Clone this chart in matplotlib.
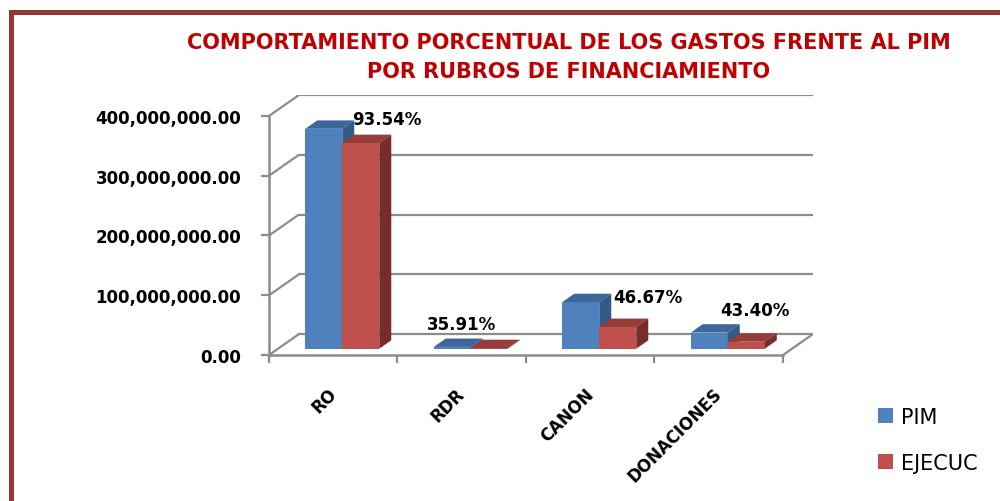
import numpy as np
import matplotlib
matplotlib.use("Agg")
import matplotlib.pyplot as plt
from matplotlib.patches import Polygon, Patch, Rectangle
from matplotlib.transforms import ScaledTranslation

rubros = ["RO", "RDR", "CANON", "DONACIONES"]
pim = [368.0e6, 3.0e6, 78.0e6, 27.0e6]
ejecuc = [344.2e6, 1.08e6, 36.4e6, 11.7e6]
avance = ["93.54%", "35.91%", "46.67%", "43.40%"]
series = ["PIM", "EJECUC"]

# colores: frente, tapa, lado
c_pim = ["#4F81BD", "#3D669A", "#355A86"]
c_eje = ["#C0504D", "#963D3A", "#772D2B"]
grid_c = "#8C8C8C"

# pseudo 3D (en unidades de datos)
dx, dy = 0.2335, 35.1e6      # profundidad de la caja
f0, fd = 0.30, 0.40          # posicion y espesor de las barras en la profundidad
w = 0.288                    # ancho de cada barra
ymax = 400e6

fig = plt.figure(figsize=(10, 5.02), dpi=100)
ax = fig.add_axes([0.269, 0.2908, 0.544, 0.518])
ax.set_xlim(0, len(rubros) + dx)
ax.set_ylim(0, ymax + dy)

# paredes / lineas de division
yt = np.arange(0, ymax + 1, 100e6)
for v in yt:
    ax.plot([0, dx], [v, v + dy], color=grid_c, lw=1.6, zorder=1, solid_capstyle="butt")
    ax.plot([dx, len(rubros) + dx], [v + dy, v + dy], color=grid_c, lw=1.6, zorder=1)
ax.plot([len(rubros), len(rubros) + dx], [0, dy], color=grid_c, lw=1.6, zorder=1)

for sp in ["top", "right"]:
    ax.spines[sp].set_visible(False)
ax.spines["left"].set_bounds(0, ymax)
ax.spines["bottom"].set_bounds(0, len(rubros))
for sp in ["left", "bottom"]:
    ax.spines[sp].set_color(grid_c)
    ax.spines[sp].set_linewidth(1.8)

ax.set_yticks(yt)
ax.set_yticklabels([f"{v:,.2f}" for v in yt], fontsize=12, fontweight="bold")
ax.tick_params(axis="y", length=6, width=1.6, color=grid_c, pad=14)

ax.set_xticks(np.arange(len(rubros)) + 0.5)
ax.set_xticklabels(rubros, rotation=45, ha="right", va="top", rotation_mode="anchor",
                   fontsize=12, fontweight="bold")
ax.set_xticks(np.arange(len(rubros) + 1), minor=True)
ax.tick_params(axis="x", which="major", length=0, pad=21)
ax.tick_params(axis="x", which="minor", length=6, width=1.6, color=grid_c)
for lab in ax.get_xticklabels():
    lab.set_transform(lab.get_transform() + ScaledTranslation(-0.06, 0, fig.dpi_scale_trans))


def bar3d(x0, val, cols):
    b = f0 * dy
    ddx, ddy = fd * dx, fd * dy
    x1 = x0 + w
    top = b + val
    ax.bar(x0, val, width=w, bottom=b, align="edge", color=cols[0], zorder=3, lw=0)
    ax.add_patch(Polygon([(x0, top), (x1, top), (x1 + ddx, top + ddy), (x0 + ddx, top + ddy)],
                         closed=True, facecolor=cols[1], lw=0, zorder=3))
    ax.add_patch(Polygon([(x1, b), (x1 + ddx, b + ddy), (x1 + ddx, top + ddy), (x1, top)],
                         closed=True, facecolor=cols[2], lw=0, zorder=3))
    return x1 + ddx, top + ddy


lab_off = [(-3, 5), (-42, 5), (0, 9), (-16, 10)]
for i in range(len(rubros)):
    x0 = i + 0.5 - w + f0 * dx
    bar3d(x0, pim[i], c_pim)
    xr, yr = bar3d(x0 + w, ejecuc[i], c_eje)
    ax.annotate(avance[i], (xr, yr), xytext=lab_off[i], textcoords="offset points",
                ha="center", va="bottom", fontsize=12, fontweight="bold", zorder=5)

fig.text(0.569, 0.914, "COMPORTAMIENTO PORCENTUAL DE LOS GASTOS FRENTE AL PIM",
         ha="center", va="center", color="#C00000", fontsize=15, fontweight="bold")
fig.text(0.569, 0.857, "POR RUBROS DE FINANCIAMIENTO",
         ha="center", va="center", color="#C00000", fontsize=15, fontweight="bold")

handles = [Patch(facecolor=c_pim[0]), Patch(facecolor=c_eje[0])]
fig.legend(handles, series, loc="upper left", bbox_to_anchor=(0.878, 0.188), frameon=False,
           fontsize=15, handlelength=0.7, handleheight=0.7, handletextpad=0.4,
           labelspacing=1.25, borderpad=0, borderaxespad=0)

fig.patches.append(Rectangle((0.011, -0.5), 2, 0.5 + 0.975, transform=fig.transFigure,
                             fill=False, edgecolor="#953735", lw=3.6))

fig.savefig("out.png", dpi=100)
